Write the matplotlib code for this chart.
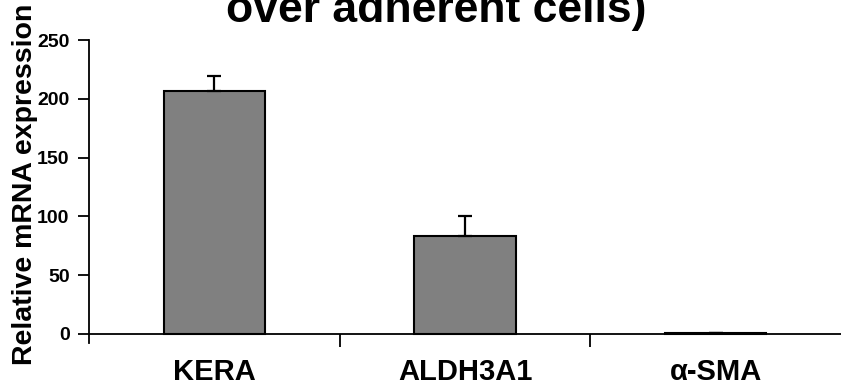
import matplotlib
matplotlib.use("Agg")
import matplotlib.pyplot as plt
import numpy as np

categories = ["KERA", "ALDH3A1", "α-SMA"]
values = [207, 83, 0.8]
errors = [12, 17, 0.2]
yticks = [0, 50, 100, 150, 200, 250]

plt.rcParams['font.family'] = ['Liberation Sans', 'DejaVu Sans']
plt.rcParams['font.weight'] = 'bold'

W, H = 841, 385
fig = plt.figure(figsize=(W / 100, H / 100), dpi=100)
ax = fig.add_axes([89 / W, 1 - 343.4 / H, 1 - 89 / W, (343.4 - 40) / H])

x = np.arange(len(categories))
ax.bar(x, values, width=0.405, color="#808080", edgecolor="black", linewidth=1.5, zorder=2)
ax.errorbar(x, values, yerr=[np.zeros(len(values)), errors], fmt="none",
            ecolor="black", elinewidth=1.6, capsize=5, capthick=1.6, zorder=3)

ax.set_xlim(-0.5, 2.5)
ax.set_ylim(-8, 250)
ax.set_xticks([0.5, 1.5], minor=True)
ax.tick_params(axis='x', which='major', length=0, pad=17, labelsize=21)
ax.tick_params(axis='x', which='minor', length=9, width=1.3, direction='out')
ax.tick_params(axis='y', length=8, width=1.3, direction='out', pad=6, labelsize=14)
ax.set_yticks(yticks)
ax.set_yticklabels([str(t) for t in yticks])
ax.set_xticks(x)
ax.set_xticklabels(categories)
for lab in ax.get_xticklabels() + ax.get_yticklabels():
    lab.set_fontweight('bold')

for s in ['top', 'right']:
    ax.spines[s].set_visible(False)
ax.spines['bottom'].set_position(('data', 0))
ax.spines['bottom'].set_linewidth(1.3)
ax.spines['left'].set_linewidth(1.3)

fig.text(25 / W, 1 - 184 / H, "Relative mRNA expression", rotation=90,
         ha='center', va='center', fontsize=20.5, fontweight='bold')
fig.text(436 / W, 1 - 22 / H, "over adherent cells)", ha='center', va='baseline',
         fontsize=32, fontweight='bold')

fig.savefig("out.png", dpi=100)
